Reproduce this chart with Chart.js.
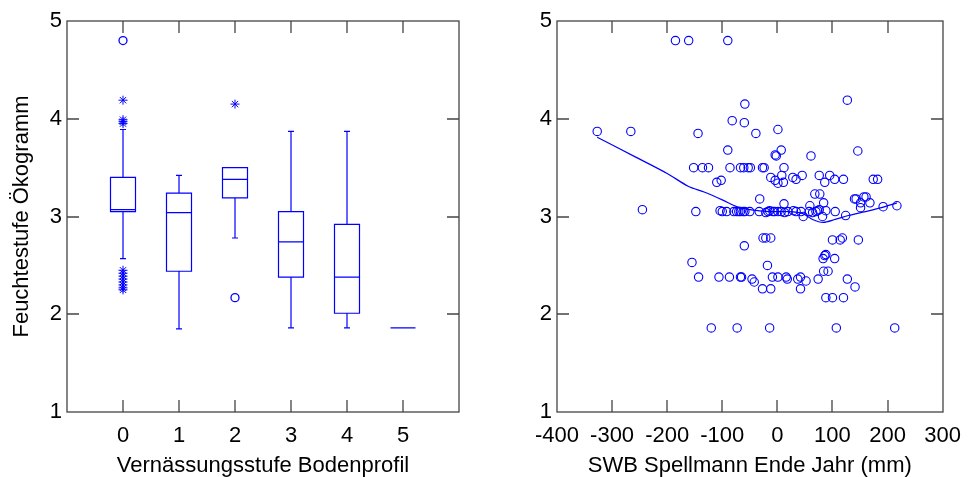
<!DOCTYPE html>
<html><head><meta charset="utf-8">
<script src="https://cdn.jsdelivr.net/npm/chart.js@4/dist/chart.umd.min.js"></script>
<style>
html,body{margin:0;padding:0;background:#fff;}
#wrap{position:relative;width:972px;height:477px;background:#fff;}
canvas{position:absolute;top:0;}
</style>
</head><body>
<div id="wrap">
<canvas id="c1" width="486" height="477" style="left:0"></canvas>
<canvas id="c2" width="486" height="477" style="left:486px"></canvas>
</div>
<script>
// ---------- Left panel: box plots ----------
const boxCategories = [0, 1, 2, 3, 4, 5];
const boxQ1        = [3.05, 2.44, 3.19, 2.38, 2.01, 1.86];
const boxMedian    = [3.07, 3.04, 3.38, 2.74, 2.38, 1.86];
const boxQ3        = [3.40, 3.24, 3.50, 3.05, 2.92, 1.86];
const whiskerLow   = [2.57, 1.85, 2.78, 1.86, 1.86, 1.86];
const whiskerHigh  = [3.89, 3.42, 3.50, 3.87, 3.87, 1.86];
const circleOutCat = [0, 2];
const circleOutVal = [4.80, 2.17];
const starOutCat   = [0, 0, 0, 0, 0, 0, 0, 0, 0, 0, 0, 0, 2];
const starOutVal   = [4.19, 3.99, 3.97, 3.95, 2.45, 2.42, 2.39, 2.36, 2.33, 2.30, 2.27, 2.25, 4.15];
const leftXTicks   = [0, 1, 2, 3, 4, 5];
const yTicks       = [1, 2, 3, 4, 5];

// ---------- Right panel: scatter + smoother ----------
const swbValues = [
  -185, -161, -90, 127, -59, -82, -60, -327, -266, -144, -39, 1,
  -90, 7, 146, -4, -2, 61,
  -152, -136, -125, -86, -67, -61, -53, -49, -27, -24, 12,
  -110, -102, -12, -4, 1, 8, 11, 28, 34, 45, 76, 86, 95, 104, 120, 174, 182,
  -32, 12, 68, 77, 59, 84, 140, 143, 157, 161, 151, 151, 168, 192, 217,
  -245, -148, -104, -100, -92, -79, -74, -70, -67, -62, -59, -50, -33, -21, -17, -14, -8, -5, 1, 7, 13, 19, 29, 34, 43, 47, 58, 64, 70, 73, 76, 82, 88, 105, 124,
  -155, -143, -106, -87, -67, -65, -60, -46, -42, -27, -26, -21, -12, -18, -12, -9, 1, 16, 18, 37, 42, 42, 52, 74, 83, 86, 88, 84, 92, 104, 88, 100, 120, 100, 114, 118, 147, 127, 141,
  -120, -73, -14, 107, 213
];
const feuchteValues = [
  4.80, 4.80, 4.80, 4.19, 4.15, 3.98, 3.96, 3.87, 3.87, 3.85, 3.85, 3.89,
  3.68, 3.68, 3.67, 3.63, 3.62, 3.62,
  3.50, 3.50, 3.50, 3.50, 3.50, 3.50, 3.50, 3.50, 3.50, 3.50, 3.50,
  3.35, 3.37, 3.40, 3.37, 3.34, 3.42, 3.35, 3.40, 3.38, 3.42, 3.42, 3.35, 3.42, 3.38, 3.38, 3.38, 3.38,
  3.18, 3.13, 3.23, 3.23, 3.11, 3.14, 3.18, 3.18, 3.20, 3.20, 3.14, 3.09, 3.14, 3.10, 3.11,
  3.07, 3.05, 3.06, 3.05, 3.05, 3.05, 3.05, 3.05, 3.05, 3.05, 3.05, 3.05, 3.05, 3.04, 3.05, 3.06, 3.05, 3.05, 3.05, 3.05, 3.04, 3.05, 3.06, 3.05, 3.05, 3.00, 3.05, 3.04, 3.05, 3.06, 3.07, 3.00, 3.06, 3.05, 3.01,
  2.53, 2.38, 2.38, 2.38, 2.38, 2.38, 2.70, 2.36, 2.33, 2.26, 2.78, 2.78, 2.78, 2.50, 2.26, 2.38, 2.38, 2.38, 2.36, 2.36, 2.38, 2.26, 2.34, 2.36, 2.57, 2.60, 2.61, 2.44, 2.44, 2.57, 2.17, 2.17, 2.17, 2.76, 2.76, 2.78, 2.76, 2.36, 2.28,
  1.86, 1.86, 1.86, 1.86, 1.86
];
const loessX = [-327, -258, -200, -162, -133, -100, -73, -50, -14, 20, 46, 64, 83, 105, 129, 160, 189, 217];
const loessY = [3.81, 3.61, 3.44, 3.31, 3.25, 3.17, 3.10, 3.07, 3.05, 3.05, 3.03, 2.97, 2.94, 2.97, 3.01, 3.05, 3.09, 3.14];
const rightXTicks = [-400, -300, -200, -100, 0, 100, 200, 300];

// ---------- styling ----------
const BLUE = '#0000ff';
const AXIS = '#444444';
const FONT = 'Liberation Sans, Arial, sans-serif';
const TICK_LEN = 12;
const BOX_HALF = 12.5;
const CAP_HALF = 3;

const toPoints = (xs, ys) => xs.map((v, i) => ({x: v, y: ys[i]}));

const framePlugin = {
  id: 'frame',
  afterDraw(chart) {
    const {ctx, chartArea: a, scales: {x, y}} = chart;
    ctx.save();
    ctx.strokeStyle = AXIS;
    ctx.lineWidth = 1.3;
    const L = Math.round(a.left), R = Math.round(a.right);
    const T = Math.round(a.top), B = Math.round(a.bottom);
    ctx.strokeRect(L, T, R - L, B - T);
    ctx.beginPath();
    x.ticks.forEach(t => {
      const px = Math.round(x.getPixelForValue(t.value));
      if (px <= L + 1 || px >= R - 1) return;
      ctx.moveTo(px, B); ctx.lineTo(px, B - TICK_LEN);
      ctx.moveTo(px, T); ctx.lineTo(px, T + TICK_LEN);
    });
    y.ticks.forEach(t => {
      const py = Math.round(y.getPixelForValue(t.value));
      if (py <= T + 1 || py >= B - 1) return;
      ctx.moveTo(L, py); ctx.lineTo(L + TICK_LEN, py);
      ctx.moveTo(R, py); ctx.lineTo(R - TICK_LEN, py);
    });
    ctx.stroke();
    ctx.restore();
  }
};

const boxPlugin = {
  id: 'boxes',
  beforeDatasetsDraw(chart) {
    const {ctx, scales: {x, y}} = chart;
    ctx.save();
    ctx.strokeStyle = BLUE;
    ctx.lineWidth = 1.2;
    ctx.beginPath();
    boxCategories.forEach((c, i) => {
      const cx = Math.round(x.getPixelForValue(c));
      const yq1 = y.getPixelForValue(boxQ1[i]);
      const yq3 = y.getPixelForValue(boxQ3[i]);
      const ym = y.getPixelForValue(boxMedian[i]);
      const ylo = y.getPixelForValue(whiskerLow[i]);
      const yhi = y.getPixelForValue(whiskerHigh[i]);
      const l = cx - BOX_HALF, r = cx + BOX_HALF;
      ctx.rect(l, yq3, r - l, yq1 - yq3);
      ctx.moveTo(l, ym); ctx.lineTo(r, ym);
      ctx.moveTo(cx, yq3); ctx.lineTo(cx, yhi);
      ctx.moveTo(cx, yq1); ctx.lineTo(cx, ylo);
      ctx.moveTo(cx - CAP_HALF, yhi); ctx.lineTo(cx + CAP_HALF, yhi);
      ctx.moveTo(cx - CAP_HALF, ylo); ctx.lineTo(cx + CAP_HALF, ylo);
    });
    ctx.stroke();
    ctx.restore();
  }
};

function yScale(showTitle, width) {
  return {
    type: 'linear', min: 1, max: 5,
    afterBuildTicks: s => { s.ticks = yTicks.map(v => ({value: v})); },
    afterFit: s => { s.width = width; },
    grid: {display: false, drawTicks: false},
    border: {display: false},
    ticks: {color: '#000', font: {family: FONT, size: 22}, padding: 5},
    title: {display: showTitle, text: 'Feuchtestufe Ökogramm', color: '#000',
            font: {family: FONT, size: 22, lineHeight: 1}, padding: {top: 11, bottom: 0}}
  };
}
function xScale(min, max, tickVals, title) {
  return {
    type: 'linear', min: min, max: max,
    afterBuildTicks: s => { s.ticks = tickVals.map(v => ({value: v})); },
    afterFit: s => { s.height = 65; },
    grid: {display: false, drawTicks: false},
    border: {display: false},
    ticks: {color: '#000', font: {family: FONT, size: 22}, padding: 11, maxRotation: 0, autoSkip: false},
    title: {display: true, text: title, color: '#000',
            font: {family: FONT, size: 22, lineHeight: 1}, padding: {top: 0, bottom: 0}}
  };
}

Chart.defaults.animation = false;

new Chart(document.getElementById('c1'), {
  type: 'scatter',
  data: {
    datasets: [
      {data: toPoints(circleOutCat, circleOutVal), pointStyle: 'circle', radius: 4,
       borderColor: BLUE, backgroundColor: 'rgba(0,0,0,0)', borderWidth: 1.3},
      {data: toPoints(starOutCat, starOutVal), pointStyle: 'star', radius: 4.5,
       borderColor: BLUE, backgroundColor: BLUE, borderWidth: 1}
    ]
  },
  options: {
    responsive: false, animation: false,
    layout: {padding: {left: 0, right: 27, top: 21, bottom: 0}},
    plugins: {legend: {display: false}, tooltip: {enabled: false}},
    scales: {
      x: xScale(-1, 6, leftXTicks, 'Vernässungsstufe Bodenprofil'),
      y: yScale(true, 67)
    }
  },
  plugins: [boxPlugin, framePlugin]
});

new Chart(document.getElementById('c2'), {
  type: 'scatter',
  data: {
    datasets: [
      {data: toPoints(loessX, loessY), showLine: true, pointRadius: 0, borderColor: BLUE,
       borderWidth: 1.2, tension: 0.3, fill: false},
      {data: toPoints(swbValues, feuchteValues), pointStyle: 'circle', radius: 4.2,
       borderColor: BLUE, backgroundColor: 'rgba(0,0,0,0)', borderWidth: 1.1}
    ]
  },
  options: {
    responsive: false, animation: false,
    layout: {padding: {left: 0, right: 23, top: 21, bottom: 0}},
    plugins: {legend: {display: false}, tooltip: {enabled: false}},
    scales: {
      x: xScale(-400, 300, rightXTicks, 'SWB Spellmann Ende Jahr (mm)'),
      y: yScale(false, 71)
    }
  },
  plugins: [framePlugin]
});
</script>
</body></html>
